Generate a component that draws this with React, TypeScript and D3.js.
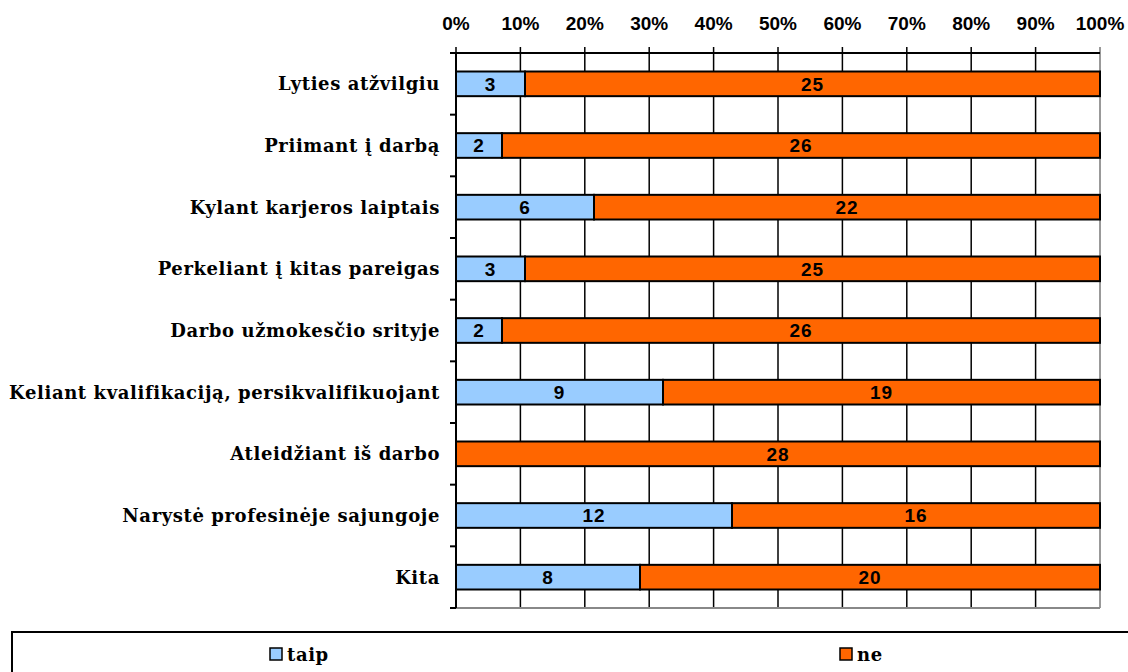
import React, { useEffect } from "react";
import * as d3 from "d3";

const categories = [
  "Lyties atžvilgiu",
  "Priimant į darbą",
  "Kylant karjeros laiptais",
  "Perkeliant į kitas pareigas",
  "Darbo užmokesčio srityje",
  "Keliant kvalifikaciją, persikvalifikuojant",
  "Atleidžiant iš darbo",
  "Narystė profesinėje sajungoje",
  "Kita",
];
const taip = [3, 2, 6, 3, 2, 9, 0, 12, 8];
const ne = [25, 26, 22, 25, 26, 19, 28, 16, 20];
const seriesNames = ["taip", "ne"];
const colors = ["#99CCFF", "#FF6600"];
const ticks = [0, 0.1, 0.2, 0.3, 0.4, 0.5, 0.6, 0.7, 0.8, 0.9, 1];

const W = 1128;
const H = 672;
const left = 456;
const right = 1100;
const top = 53;
const bottom = 608;

export default function App() {
  useEffect(() => {
    document.body.style.margin = "0";
  }, []);

  const x = d3.scaleLinear().domain([0, 1]).range([left, right]);
  const y = d3.scaleBand().domain(categories).range([top, bottom]).paddingInner(0.6).paddingOuter(0.3);
  const band = (bottom - top) / categories.length;

  const rows = categories.map((c, i) => {
    const tot = taip[i] + ne[i];
    return { c, vals: [taip[i], ne[i]], p: [taip[i] / tot, ne[i] / tot] };
  });

  const sans = "'Liberation Sans', Arial, sans-serif";
  const serif = "'DejaVu Serif', serif";

  return (
    <svg width={W} height={H} style={{ display: "block", background: "#fff" }}>
      {/* grid */}
      {ticks.map((t) => (
        <line key={"g" + t} x1={x(t)} x2={x(t)} y1={top - 6} y2={bottom}
          stroke={t === 1 ? "#777" : "#000"} strokeWidth={1.5} />
      ))}
      <line x1={left} x2={right} y1={top} y2={top} stroke="#000" strokeWidth={2} />
      <line x1={left} x2={right} y1={bottom} y2={bottom} stroke="#888" strokeWidth={2} />
      <line x1={left} x2={left} y1={top} y2={bottom} stroke="#000" strokeWidth={2} />
      {d3.range(categories.length + 1).map((i) => (
        <line key={"lt" + i} x1={left - 6} x2={left} y1={top + i * band} y2={top + i * band}
          stroke="#000" strokeWidth={2} />
      ))}
      {ticks.map((t) => (
        <text key={"t" + t} x={x(t)} y={30} textAnchor="middle" fontFamily={sans}
          fontWeight="bold" fontSize={19}>{d3.format(".0%")(t)}</text>
      ))}
      {rows.map((r) => {
        let acc = 0;
        const yy = y(r.c)!;
        return (
          <g key={r.c}>
            <text x={440} y={yy + y.bandwidth() / 2} dy="0.36em" textAnchor="end"
              fontFamily={serif} fontWeight="bold" fontSize={18} letterSpacing={0.6}>{r.c}</text>
            {r.p.map((p, k) => {
              const x0 = x(acc);
              acc += p;
              const x1 = x(acc);
              if (r.vals[k] === 0) return null;
              return (
                <g key={k}>
                  <rect x={x0} y={yy} width={x1 - x0} height={y.bandwidth()} fill={colors[k]}
                    stroke="#000" strokeWidth={2} />
                  <text x={(x0 + x1) / 2} y={yy + y.bandwidth() / 2} dy="0.36em" textAnchor="middle"
                    fontFamily={sans} fontWeight="bold" fontSize={19} letterSpacing={1}>{r.vals[k]}</text>
                </g>
              );
            })}
          </g>
        );
      })}
      {/* legend */}
      <rect x={12} y={632} width={1130} height={60} fill="none" stroke="#000" strokeWidth={2} />
      {seriesNames.map((s, k) => {
        const lx = [270, 840][k];
        return (
          <g key={s}>
            <rect x={lx} y={648} width={12} height={12} fill={colors[k]} stroke="#000" strokeWidth={1.5} />
            <text x={lx + 17} y={661} fontFamily={serif} fontWeight="bold" fontSize={18} letterSpacing={0.6}>{s}</text>
          </g>
        );
      })}
    </svg>
  );
}
